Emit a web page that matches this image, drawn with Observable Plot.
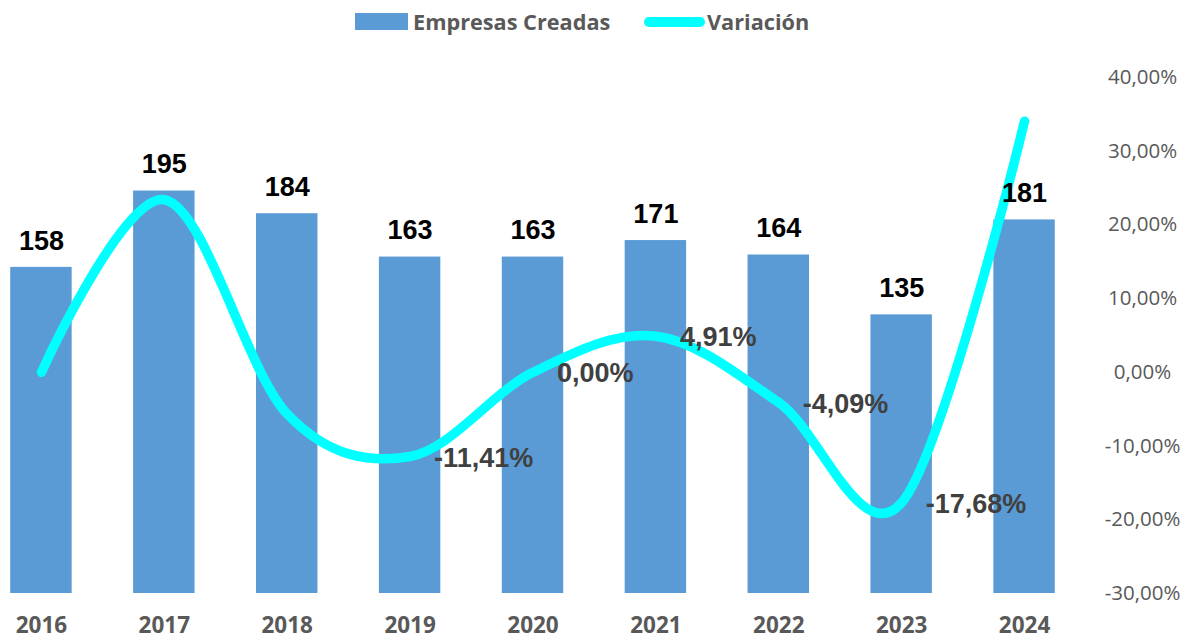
<!DOCTYPE html>
<html>
<head>
<meta charset="utf-8">
<script src="https://cdn.jsdelivr.net/npm/d3@7"></script>
<script src="https://cdn.jsdelivr.net/npm/@observablehq/plot@0.6"></script>
<style>
  html, body { margin: 0; padding: 0; background: #fff; width: 1197px; height: 639px; overflow: hidden; }
  #legend { position: relative; height: 45px; width: 1197px; font-family: "Open Sans", sans-serif; font-weight: 700; font-size: 21.7px; color: #595959; }
  #legend .sw1 { position: absolute; left: 355px; top: 13px; width: 53px; height: 17px; background: #5B9BD5; }
  #legend .t1 { position: absolute; left: 413px; top: 6px; line-height: 32px; }
  #legend .sw2 { position: absolute; left: 644px; top: 17px; width: 61px; height: 10px; border-radius: 5px; background: #00FFFF; }
  #legend .t2 { position: absolute; left: 707px; top: 6px; line-height: 32px; }
  svg { display: block; }
</style>
</head>
<body>
<div id="legend">
  <div class="sw1"></div><div class="t1">Empresas Creadas</div>
  <div class="sw2"></div><div class="t2">Variación</div>
</div>
<div id="chart"></div>
<script>
const years = ["2016", "2017", "2018", "2019", "2020", "2021", "2022", "2023", "2024"];
const empresas = [158, 195, 184, 163, 163, 171, 164, 135, 181];
const variacion = [0.00, 23.42, -5.64, -11.41, 0.00, 4.91, -4.09, -17.68, 34.07];
const variacionLabels = ["", "", "", "-11,41%", "0,00%", "4,91%", "-4,09%", "-17,68%", ""];
const pctTicks = [-30, -20, -10, 0, 10, 20, 30, 40];

const leftMax = 250;
const pctMin = -30, pctMax = 40;
const toLeft = p => (p - pctMin) / (pctMax - pctMin) * leftMax;
const fmtPct = p => p.toFixed(2).replace(".", ",") + "%";

const bars = years.map((y, i) => ({year: y, value: empresas[i]}));
const line = years.map((y, i) => ({year: y, pct: variacion[i], yv: toLeft(variacion[i]), label: variacionLabels[i]}));

const chart = Plot.plot({
  width: 1197,
  height: 594,
  marginTop: 32,
  marginBottom: 46,
  marginLeft: -20.5,
  marginRight: 111.5,
  style: {fontFamily: "Open Sans, sans-serif", background: "#fff", overflow: "visible"},
  x: {domain: years, paddingInner: 0.5, paddingOuter: 0.25, round: false},
  y: {domain: [0, leftMax]},
  marks: [
    Plot.barY(bars, {x: "year", y: "value", fill: "#5B9BD5"}),
    Plot.line(line, {x: "year", y: "yv", stroke: "#00FFFF", strokeWidth: 9.5, curve: "cardinal", tension: 0, strokeLinecap: "round", strokeLinejoin: "round"}),
    Plot.text(bars, {x: "year", y: "value", text: d => String(d.value), dy: -26.5, fontSize: 27, fontWeight: "bold", fill: "#000", fontFamily: "Liberation Sans, Arial, sans-serif"}),
    Plot.text(line.filter(d => d.label), {x: "year", y: "yv", text: "label", dx: 24, dy: 1.5, textAnchor: "start", fontSize: 27, fontWeight: "bold", fill: "#404040", fontFamily: "Liberation Sans, Arial, sans-serif"}),
    Plot.axisX({tickSize: 0, tickPadding: 23.5, fontSize: 22.5, fontWeight: "bold", fill: "#595959", label: null}),
    Plot.axisY({anchor: "right", ticks: pctTicks.map(toLeft), tickFormat: v => fmtPct(Math.round(v / leftMax * (pctMax - pctMin) + pctMin)), tickSize: 0, tickPadding: 0, dx: 56.5, textAnchor: "middle", fontSize: 20.5, fill: "#595959", label: null})
  ]
});
document.getElementById("chart").appendChild(chart);
</script>
</body>
</html>
